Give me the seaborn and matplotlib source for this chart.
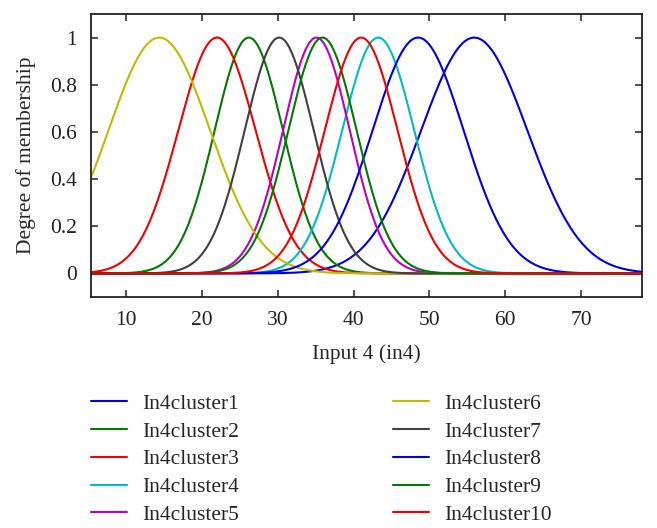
import numpy as np
import pandas as pd
import seaborn as sns
import matplotlib.pyplot as plt
from matplotlib.ticker import FuncFormatter

# Gaussian membership functions for input 4 (center, sigma)
clusters = ['In4cluster1', 'In4cluster2', 'In4cluster3', 'In4cluster4', 'In4cluster5',
            'In4cluster6', 'In4cluster7', 'In4cluster8', 'In4cluster9', 'In4cluster10']
centers = [55.9, 26.2, 22.0, 43.25, 35.1, 14.4, 30.2, 48.5, 35.9, 41.0]
sigmas = [7.0, 4.5, 5.1, 4.75, 4.4, 6.7, 4.55, 6.0, 4.5, 4.8]
colors = ['#0000e0', '#007a00', '#f00000', '#00bdbd', '#bd00bd',
          '#bdbd00', '#404040', '#0000e0', '#007a00', '#f00000']
x_range = [5.4, 78.0]
y_ticks = [0, 0.2, 0.4, 0.6, 0.8, 1]
x_ticks = [10, 20, 30, 40, 50, 60, 70]

# membership curves evaluated on the input range
x = np.linspace(x_range[0], x_range[1], 500)
rows = []
for name, c, s in zip(clusters, centers, sigmas):
    rows.append(pd.DataFrame({'x': x, 'mf': np.exp(-(x - c) ** 2 / (2 * s ** 2)), 'cluster': name}))
df = pd.concat(rows, ignore_index=True)

sns.set_theme(style='ticks')
plt.rcParams['font.family'] = ['Liberation Serif', 'DejaVu Serif']
plt.rcParams['font.size'] = 15.5

fig = plt.figure(figsize=(6.57, 5.28), dpi=100)
ax = fig.add_axes([0.1385, 0.4375, 0.8386, 0.536])

sns.lineplot(data=df, x='x', y='mf', hue='cluster', hue_order=clusters,
             palette=dict(zip(clusters, colors)), linewidth=1.5, ax=ax)

ax.set_xlim(x_range)
ax.set_ylim(-0.1, 1.1)
ax.set_xticks(x_ticks)
ax.set_yticks(y_ticks)
ax.yaxis.set_major_formatter(FuncFormatter(lambda v, p: f'{v:g}'))
ax.tick_params(direction='in', length=5, width=1.1, top=True, right=True,
               labelsize=15.5, colors='#222222', pad=10)
for sp in ax.spines.values():
    sp.set_linewidth(1.3)
    sp.set_color('#222222')
ax.set_xlabel('Input 4 (in4)', fontsize=15.5, labelpad=10)
ax.set_ylabel('Degree of membership', fontsize=15.5, labelpad=10)

sns.move_legend(ax, 'upper left', bbox_to_anchor=(0.1385, 0.2545), bbox_transform=fig.transFigure,
                ncol=2, frameon=False, title=None, fontsize=15.5, borderpad=0, borderaxespad=0,
                handlelength=1.67, handletextpad=0.7, labelspacing=0.36, columnspacing=7.15)

fig.savefig('out.png', dpi=100)
